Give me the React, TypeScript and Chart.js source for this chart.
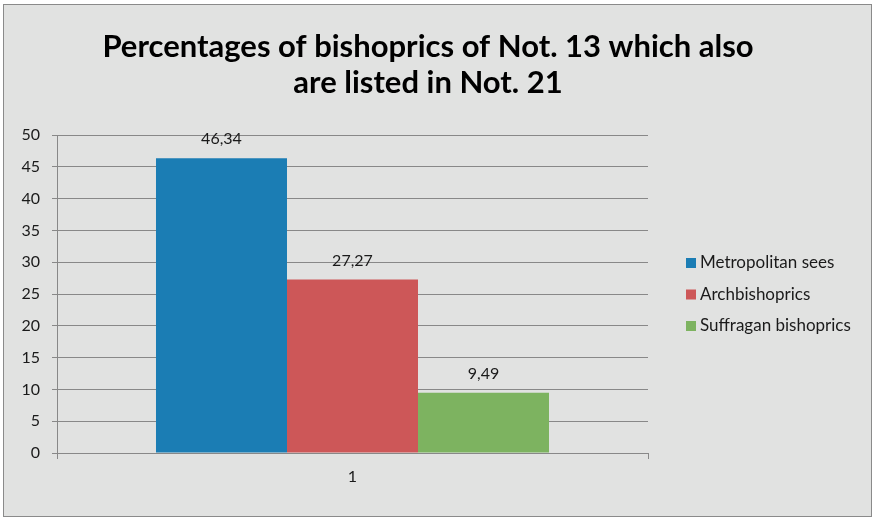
import React, { useEffect, useRef } from "react";
import { Chart, registerables } from "chart.js";

Chart.register(...registerables);

const categories = ["1"];
const seriesNames = ["Metropolitan sees", "Archbishoprics", "Suffragan bishoprics"];
const metropolitanValues = [46.34];
const archbishopricValues = [27.27];
const suffraganValues = [9.49];
const seriesColors = ["#1b7db4", "#cd5758", "#7db360"];
const titleLines = ["Percentages of bishoprics of Not. 13 which also", "are listed in Not. 21"];
const yMin = 0;
const yMax = 50;
const yStep = 5;

const FONT = "Lato, 'Open Sans', sans-serif";
const TEXT = "#1a1a1a";
const GRID = "#888888";

const fmt = (v: number) => v.toFixed(2).replace(".", ",");

const overlay = {
  id: "overlay",
  afterDatasetsDraw(chart: any) {
    const ctx = chart.ctx;
    ctx.save();
    ctx.textAlign = "center";
    ctx.textBaseline = "middle";
    ctx.fillStyle = TEXT;
    ctx.font = `16px ${FONT}`;
    chart.data.datasets.forEach((ds: any, i: number) => {
      const meta = chart.getDatasetMeta(i);
      meta.data.forEach((el: any, j: number) => {
        ctx.fillText(fmt(ds.data[j]), el.x, el.y - 19);
      });
    });
    // title
    ctx.fillStyle = "#000";
    ctx.font = `bold 31px ${FONT}`;
    titleLines.forEach((t, k) => ctx.fillText(t, 424, 42 + k * 36));
    // legend
    ctx.textAlign = "left";
    ctx.font = `17px ${FONT}`;
    chart.data.datasets.forEach((ds: any, i: number) => {
      const cy = 258 + i * 31.5;
      ctx.fillStyle = ds.backgroundColor;
      ctx.fillRect(682, cy - 5, 10, 10);
      ctx.fillStyle = TEXT;
      ctx.fillText(ds.label, 696, cy);
    });
    ctx.restore();
  },
};

export default function App() {
  const ref = useRef<HTMLCanvasElement | null>(null);
  useEffect(() => {
    if (!ref.current) return;
    const seriesValues = [metropolitanValues, archbishopricValues, suffraganValues];
    const chart = new Chart(ref.current, {
      type: "bar",
      data: {
        labels: categories,
        datasets: seriesNames.map((name, i) => ({
          label: name,
          data: seriesValues[i],
          backgroundColor: seriesColors[i],
          borderWidth: 0,
          categoryPercentage: 0.665,
          barPercentage: 1,
        })),
      },
      options: {
        responsive: false,
        animation: false,
        layout: { padding: { left: 0, right: 223, top: 130, bottom: 0 } },
        plugins: {
          legend: { display: false },
          title: { display: false },
          tooltip: { enabled: false },
        },
        scales: {
          x: {
            offset: true,
            grid: { display: true, offset: true, drawOnChartArea: false, tickLength: 6, color: GRID },
            border: { display: true, color: GRID },
            ticks: { font: { family: FONT, size: 16 }, color: TEXT, padding: 8 },
            afterFit(s: any) {
              s.height = 63;
            },
          },
          y: {
            min: yMin,
            max: yMax,
            ticks: { stepSize: yStep, font: { family: FONT, size: 16 }, color: TEXT, padding: 12 },
            grid: { color: GRID, tickLength: 5 },
            border: { display: true, color: GRID },
            afterFit(s: any) {
              s.width = 53;
            },
          },
        },
      },
      plugins: [overlay],
    } as any);
    return () => chart.destroy();
  }, []);

  return (
    <div style={{ position: "absolute", left: 0, top: 0, width: 873, height: 531, background: "#fff" }}>
      <div
        style={{
          position: "absolute",
          left: 3,
          top: 4,
          width: 869,
          height: 513,
          boxSizing: "border-box",
          border: "1px solid #8a8a8a",
          background: "#e1e2e1",
        }}
      >
        <canvas ref={ref} width={867} height={511} style={{ display: "block" }} />
      </div>
    </div>
  );
}
